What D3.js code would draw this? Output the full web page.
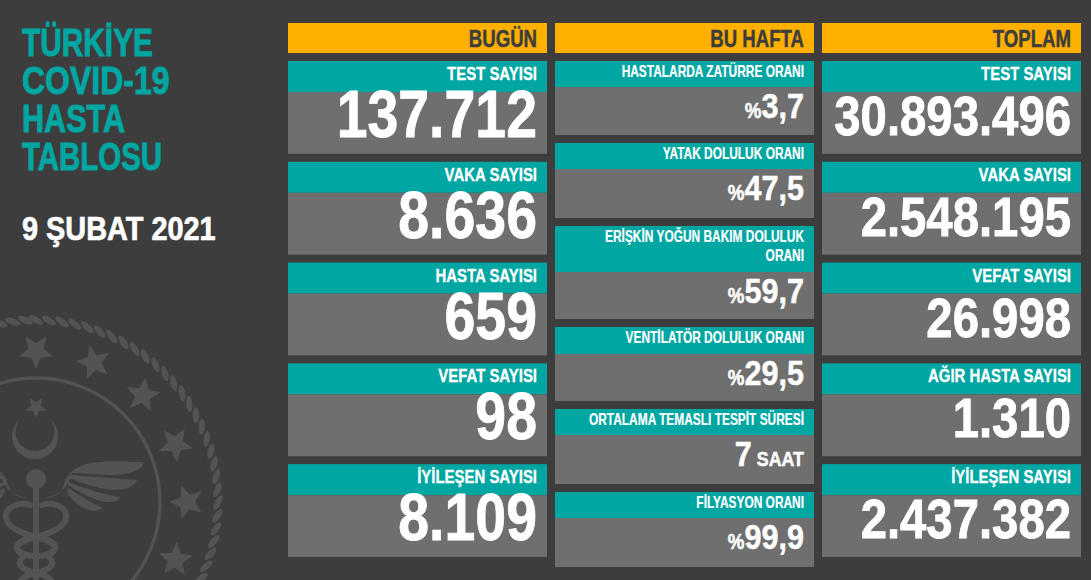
<!DOCTYPE html>
<html>
<head>
<meta charset="utf-8">
<script src="https://cdnjs.cloudflare.com/ajax/libs/d3/7.8.5/d3.min.js"></script>
<style>
  html, body { margin: 0; padding: 0; background: #3d3d3d; overflow: hidden; }
  text { font-family: "Liberation Sans", Arial, sans-serif; font-weight: 700; }
</style>
</head>
<body>
<script>
// values
const titleLines = ["TÜRKİYE", "COVID-19", "HASTA", "TABLOSU"];
const titleStretch = [0.765, 0.82, 0.785, 0.755];
const dateLabel = "9 ŞUBAT 2021";
const columnNames = ["BUGÜN", "BU HAFTA", "TOPLAM"];

const todayLabels = ["TEST SAYISI", "VAKA SAYISI", "HASTA SAYISI", "VEFAT SAYISI", "İYİLEŞEN SAYISI"];
const todayValues = ["137.712", "8.636", "659", "98", "8.109"];

const weekLabels = [
  ["HASTALARDA ZATÜRRE ORANI"],
  ["YATAK DOLULUK ORANI"],
  ["ERİŞKİN YOĞUN BAKIM DOLULUK", "ORANI"],
  ["VENTİLATÖR DOLULUK ORANI"],
  ["ORTALAMA TEMASLI TESPİT SÜRESİ"],
  ["FİLYASYON ORANI"]
];
const weekPrefix = ["%", "%", "%", "%", "", "%"];
const weekValues = ["3,7", "47,5", "59,7", "29,5", "7", "99,9"];
const weekSuffix = ["", "", "", "", " SAAT", ""];

const totalLabels = ["TEST SAYISI", "VAKA SAYISI", "VEFAT SAYISI", "AĞIR HASTA SAYISI", "İYİLEŞEN SAYISI"];
const totalValues = ["30.893.496", "2.548.195", "26.998", "1.310", "2.437.382"];

// colours
const bg = "#3d3d3d", orange = "#ffb000", teal = "#00a6a2", grey = "#6f6f6f", emblem = "#535353";

const width = 1091, height = 580;
const svg = d3.select("body").append("svg").attr("width", width).attr("height", height)
  .style("display", "block");
svg.append("rect").attr("width", width).attr("height", height).attr("fill", bg);

// emblem in the lower left
const em = svg.append("g").attr("fill", emblem);
const cx = 36, cy = 502;
em.append("circle").attr("cx", cx).attr("cy", cy).attr("r", 124)
  .attr("fill", "none").attr("stroke", emblem).attr("stroke-width", 3.4);

function starPath(r) {
  const pts = d3.range(10).map(i => {
    const a = -Math.PI / 2 + i * Math.PI / 5, q = i % 2 ? r * 0.44 : r;
    return [q * Math.cos(a), q * Math.sin(a)];
  });
  return d3.line()(pts) + "Z";
}
// ring of stars: every 22.5 degrees, rotated a bit each
d3.range(-2, 7).forEach(i => {
  const a = i * 22.5 * Math.PI / 180;
  const sx = cx + 151 * Math.sin(a), sy = cy - 151 * Math.cos(a);
  em.append("path").attr("d", starPath(18))
    .attr("transform", `translate(${sx},${sy}) rotate(${i * 22.5 + 180})`);
});
// rope
d3.range(0, 360, 4.1).forEach(d => {
  const a = d * Math.PI / 180;
  const rx = cx + 182 * Math.sin(a), ry = cy - 182 * Math.cos(a);
  em.append("ellipse").attr("rx", 8).attr("ry", 3.2)
    .attr("transform", `translate(${rx},${ry}) rotate(${d + 28})`);
});
// crescent and small star
em.append("path").attr("fill-rule", "evenodd")
  .attr("d", "M21,418 A23,23 0 1 0 49,418 A19.5,19.5 0 1 1 21,418 Z");
em.append("path").attr("d", starPath(11)).attr("transform", "translate(36,407) rotate(180)");
// staff
em.append("circle").attr("cx", 36).attr("cy", 479).attr("r", 10);
em.append("rect").attr("x", 33).attr("y", 485).attr("width", 6).attr("height", 95);
// wings
const wing = [
  "M45,497 C54,499 62,493 64,485 C67,470 82,463 100,462 C116,461 130,462 144,462 C142,470 130,475 113,475 C98,475 84,473 72,473 C70,484 60,497 45,497 Z",
  "M72,475 C92,477 116,478 137,480 C134,487 126,490 113,490 C98,489 80,482 68,478 Z",
  "M68,482 C84,488 102,494 120,497 C118,502 108,504 97,500 C86,496 76,490 68,485 Z",
  "M68,488 C80,496 92,503 103,508 C99,511 92,512 84,508 C76,504 70,498 67,492 Z"
];
wing.forEach(d => {
  em.append("path").attr("d", d);
  em.append("path").attr("d", d).attr("transform", "translate(72,0) scale(-1,1)");
});
// snakes
const snakes = [
  "M30,505 C18,501 5,508 6,517 C7,528 22,533 36,537 C52,541 58,546 54,551 C48,558 24,558 18,550 C15,545 20,541 27,539",
  "M42,505 C55,501 67,508 66,517 C65,528 50,533 36,537 C20,541 14,546 18,551 C24,558 48,558 54,550 C57,545 52,541 45,539",
  "M22,558 C16,564 22,570 36,573 C50,576 56,582 50,590",
  "M50,558 C56,564 50,570 36,573 C22,576 16,582 22,590"
];
snakes.forEach(d => {
  em.append("path").attr("d", d).attr("fill", "none")
    .attr("stroke", emblem).attr("stroke-width", 6).attr("stroke-linecap", "round");
});

// title
const titleY = d3.scalePoint().domain(titleLines).range([56, 170]);
svg.selectAll(".title").data(titleLines).join("text")
  .attr("class", "title")
  .attr("transform", (d, i) => `translate(22,${titleY(d)}) scale(${titleStretch[i]},1)`)
  .attr("font-size", 39).attr("fill", teal).attr("stroke", teal).attr("stroke-width", 1)
  .text(d => d);
svg.append("text")
  .attr("transform", "translate(22,240) scale(0.875,1)")
  .attr("font-size", 33).attr("fill", "#fff").attr("stroke", "#fff").attr("stroke-width", 0.7)
  .text(dateLabel);

// columns
const colX = d3.scaleBand().domain(d3.range(3)).range([288, 1081]).paddingInner(8 / 267).align(0);
const colW = colX.bandwidth();

svg.selectAll(".head").data(columnNames).join("rect")
  .attr("class", "head")
  .attr("x", (d, i) => colX(i)).attr("y", 23).attr("width", colW).attr("height", 30)
  .attr("fill", orange);
svg.selectAll(".headtxt").data(columnNames).join("text")
  .attr("class", "headtxt")
  .attr("transform", (d, i) => `translate(${colX(i) + colW - 10},47) scale(0.775,1)`)
  .attr("text-anchor", "end").attr("font-size", 24).attr("fill", bg)
  .attr("stroke", bg).attr("stroke-width", 0.5)
  .text(d => d);

// side columns have five equal cards
const rowY = d3.scaleBand().domain(d3.range(5)).range([61, 557]).paddingInner(8 / 101).align(0);

function card(col, y, labelH, bodyH) {
  const g = svg.append("g").attr("transform", `translate(${colX(col)},${y})`);
  g.append("rect").attr("width", colW).attr("height", labelH).attr("fill", teal);
  g.append("rect").attr("y", labelH).attr("width", colW).attr("height", bodyH).attr("fill", grey);
  return g;
}

function sideColumn(col, labels, values, size, stretch, baseOffset) {
  labels.forEach((label, i) => {
    const g = card(col, rowY(i), 31, rowY.bandwidth() - 31);
    g.append("text")
      .attr("transform", `translate(${colW - 10},19) scale(0.83,1)`)
      .attr("text-anchor", "end").attr("font-size", 18).attr("fill", "#fff")
      .attr("stroke", "#fff").attr("stroke-width", 0.3)
      .text(label);
    g.append("text")
      .attr("transform", `translate(${colW - 10},${baseOffset}) scale(${stretch},1)`)
      .attr("text-anchor", "end").attr("font-size", size).attr("fill", "#fff")
      .attr("stroke", "#fff").attr("stroke-width", 0.8)
      .text(values[i]);
  });
}
sideColumn(0, todayLabels, todayValues, 66, 0.84, 76);
sideColumn(2, totalLabels, totalValues, 55, 0.86, 74);

// middle column, card heights differ
const weekLabelH = [26, 26, 46, 27, 26, 26];
const weekBodyH = [48, 49, 47, 47, 49, 49];
let wy = 61;
weekLabels.forEach((lines, i) => {
  const g = card(1, wy, weekLabelH[i], weekBodyH[i]);
  lines.forEach((line, j) => {
    g.append("text")
      .attr("transform", `translate(${colW - 10},${16 + j * 19}) scale(0.745,1)`)
      .attr("text-anchor", "end").attr("font-size", 16).attr("fill", "#fff")
      .attr("stroke", "#fff").attr("stroke-width", 0.2)
      .text(line);
  });
  const t = g.append("text")
    .attr("transform", `translate(${colW - 10},${weekLabelH[i] + 31}) scale(0.85,1)`)
    .attr("text-anchor", "end").attr("font-size", 36).attr("fill", "#fff")
    .attr("stroke", "#fff").attr("stroke-width", 0.5);
  if (weekPrefix[i]) t.append("tspan").attr("font-size", 22).text(weekPrefix[i]);
  t.append("tspan").text(weekValues[i]);
  if (weekSuffix[i]) t.append("tspan").attr("font-size", 21).text(weekSuffix[i]);
  wy += weekLabelH[i] + weekBodyH[i] + 8;
});
</script>
</body>
</html>
